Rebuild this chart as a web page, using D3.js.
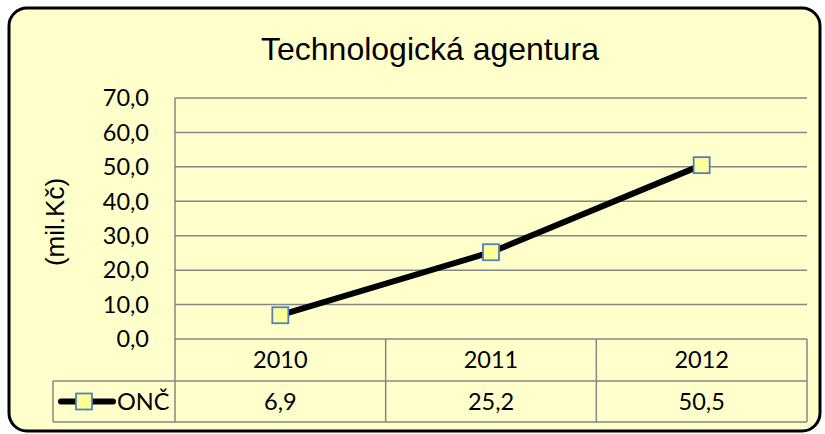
<!DOCTYPE html>
<html>
<head>
<meta charset="utf-8">
<script src="https://cdn.jsdelivr.net/npm/d3@7"></script>
<style>
  body { margin: 0; background: #fff; }
  text { fill: #000; }
</style>
</head>
<body>
<div id="chart"></div>
<script>
// data
var years = ["2010", "2011", "2012"];
var onc = [6.9, 25.2, 50.5];
var seriesName = "ONČ";
var yTicks = [0, 10, 20, 30, 40, 50, 60, 70];
var title = "Technologická agentura";
var yLabel = "(mil.Kč)";

var W = 825, H = 434;
var bg = "#ffffcc", grid = "#868686";
var tickFont = "Lato, 'Open Sans', sans-serif";
var arial = "'Liberation Sans', Arial, sans-serif";

var svg = d3.select("#chart").append("svg")
	.attr("width", W)
	.attr("height", H);

// outer frame
svg.append("rect")
	.attr("x", 9).attr("y", 8)
	.attr("width", 811).attr("height", 423)
	.attr("rx", 18).attr("ry", 18)
	.attr("fill", bg)
	.attr("stroke", "#000")
	.attr("stroke-width", 3);

svg.append("text")
	.attr("x", 430).attr("y", 60)
	.attr("text-anchor", "middle")
	.style("font-family", arial)
	.style("font-size", "32px")
	.text(title);

var x = d3.scaleBand()
	.domain(years)
	.range([175, 807]);

var y = d3.scaleLinear()
	.domain([0, 70])
	.range([339, 98]);

// gridlines
svg.append("g").selectAll("line")
	.data(yTicks)
	.enter().append("line")
	.attr("x1", 175).attr("x2", 807)
	.attr("y1", function(d) { return y(d); })
	.attr("y2", function(d) { return y(d); })
	.attr("stroke", grid)
	.attr("stroke-width", 1.5);

// y axis line
svg.append("line")
	.attr("x1", 175).attr("x2", 175)
	.attr("y1", y(70)).attr("y2", y(0))
	.attr("stroke", grid).attr("stroke-width", 1.5);

// tick labels
svg.append("g").selectAll("text")
	.data(yTicks)
	.enter().append("text")
	.attr("x", 149)
	.attr("y", function(d) { return y(d); })
	.attr("dy", "0.35em")
	.attr("text-anchor", "end")
	.style("font-family", tickFont)
	.style("font-size", "23.5px")
	.text(function(d) { return d3.format(".1f")(d).replace(".", ","); });

svg.append("text")
	.attr("transform", "translate(64,222) rotate(-90)")
	.attr("text-anchor", "middle")
	.style("font-family", arial)
	.style("font-size", "26px")
	.text(yLabel);

// data table
var row1 = y(0), row2 = 381, row3 = 422;
var table = svg.append("g")
	.attr("stroke", grid)
	.attr("stroke-width", 1.5);

var edges = x.domain().map(function(d) { return x(d); }).concat([x.range()[1]]);
table.selectAll(".v")
	.data(edges)
	.enter().append("line")
	.attr("x1", function(d) { return d; })
	.attr("x2", function(d) { return d; })
	.attr("y1", row1).attr("y2", row3);

table.append("line").attr("x1", 53).attr("x2", 53).attr("y1", row2).attr("y2", row3);
table.append("line").attr("x1", 53).attr("x2", 807).attr("y1", row2).attr("y2", row2);
table.append("line").attr("x1", 53).attr("x2", 807).attr("y1", row3).attr("y2", row3);

svg.append("g").selectAll("text")
	.data(years)
	.enter().append("text")
	.attr("x", function(d) { return x(d) + x.bandwidth() / 2; })
	.attr("y", (row1 + row2) / 2)
	.attr("dy", "0.35em")
	.attr("text-anchor", "middle")
	.style("font-family", tickFont)
	.style("font-size", "23.5px")
	.text(function(d) { return d; });

svg.append("g").selectAll("text")
	.data(onc)
	.enter().append("text")
	.attr("x", function(d, i) { return x(years[i]) + x.bandwidth() / 2; })
	.attr("y", (row2 + row3) / 2)
	.attr("dy", "0.35em")
	.attr("text-anchor", "middle")
	.style("font-family", tickFont)
	.style("font-size", "23.5px")
	.text(function(d) { return String(d).replace(".", ","); });

// legend key
var ly = (row2 + row3) / 2;
svg.append("line")
	.attr("x1", 61).attr("x2", 113)
	.attr("y1", ly).attr("y2", ly)
	.attr("stroke", "#000").attr("stroke-width", 6)
	.attr("stroke-linecap", "round");
svg.append("rect")
	.attr("x", 84 - 8).attr("y", ly - 8)
	.attr("width", 16).attr("height", 16)
	.attr("fill", "#ffff99")
	.attr("stroke", "#4f81bd").attr("stroke-width", 1.8);
svg.append("text")
	.attr("x", 117).attr("y", ly)
	.attr("dy", "0.35em")
	.style("font-family", tickFont)
	.style("font-size", "23.5px")
	.text(seriesName);

// series line
var line = d3.line()
	.x(function(d, i) { return x(years[i]) + x.bandwidth() / 2; })
	.y(function(d) { return y(d); });

svg.append("path")
	.datum(onc)
	.attr("fill", "none")
	.attr("stroke", "#000")
	.attr("stroke-width", 6)
	.attr("d", line);

svg.append("g").selectAll("rect")
	.data(onc)
	.enter().append("rect")
	.attr("x", function(d, i) { return x(years[i]) + x.bandwidth() / 2 - 8; })
	.attr("y", function(d) { return y(d) - 8; })
	.attr("width", 16).attr("height", 16)
	.attr("fill", "#ffff99")
	.attr("stroke", "#4f81bd")
	.attr("stroke-width", 1.8);
</script>
</body>
</html>
